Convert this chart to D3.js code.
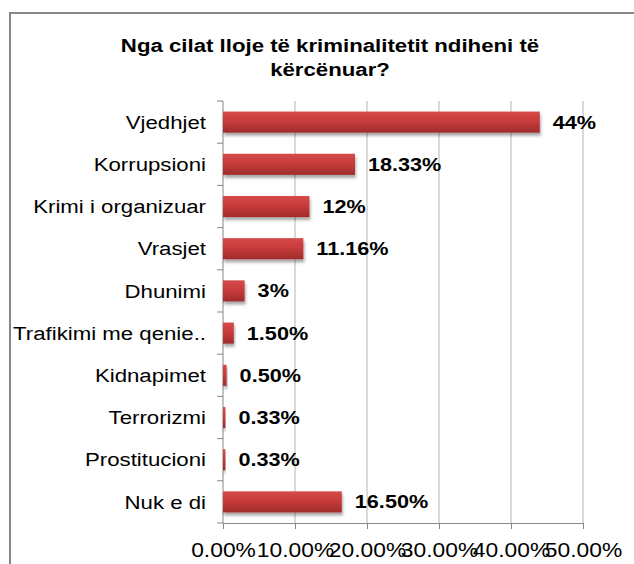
<!DOCTYPE html>
<html>
<head>
<meta charset="utf-8">
<script src="https://cdn.jsdelivr.net/npm/d3@7"></script>
<style>
  body { margin: 0; background: #fff; }
  text { font-family: "Liberation Sans", Arial, sans-serif; fill: #000; }
</style>
</head>
<body>
<script>
// data
var categories = ["Vjedhjet", "Korrupsioni", "Krimi i organizuar", "Vrasjet", "Dhunimi",
  "Trafikimi me qenie..", "Kidnapimet", "Terrorizmi", "Prostitucioni", "Nuk e di"];
var values = [0.44, 0.1833, 0.12, 0.1116, 0.03, 0.015, 0.005, 0.0033, 0.0033, 0.165];
var valueLabels = ["44%", "18.33%", "12%", "11.16%", "3%", "1.50%", "0.50%", "0.33%", "0.33%", "16.50%"];
var tickValues = [0, 0.1, 0.2, 0.3, 0.4, 0.5];
var titleLines = ["Nga cilat lloje të kriminalitetit ndiheni të", "kërcënuar?"];

var width = 634, height = 564;
var sx = 1.17; // picture is a bit stretched sideways
var plotLeft = 223, plotRight = 583, plotTop = 101, plotBottom = 523;

var svg = d3.select("body").append("svg")
  .attr("width", width)
  .attr("height", height);

// gradient + shadow for bars
var defs = svg.append("defs");
var grad = defs.append("linearGradient")
  .attr("id", "barGrad")
  .attr("x1", 0).attr("y1", 0).attr("x2", 0).attr("y2", 1);
grad.append("stop").attr("offset", "0%").attr("stop-color", "#d6494a");
grad.append("stop").attr("offset", "45%").attr("stop-color", "#c83c3c");
grad.append("stop").attr("offset", "100%").attr("stop-color", "#a02b2b");
var shadow = defs.append("filter").attr("id", "shadow")
  .attr("x", "-10%").attr("y", "-30%").attr("width", "130%").attr("height", "180%");
shadow.append("feDropShadow")
  .attr("dx", 1).attr("dy", 3).attr("stdDeviation", 1.4)
  .attr("flood-color", "#000").attr("flood-opacity", 0.35);

// outer border
svg.append("rect")
  .attr("x", 10).attr("y", 13)
  .attr("width", 700).attr("height", 700)
  .attr("fill", "none")
  .attr("stroke", "#878787")
  .attr("stroke-width", 2);

// title
svg.selectAll(".title")
  .data(titleLines)
  .enter()
  .append("text")
    .attr("class", "title")
    .attr("transform", function(d, i){
      return "translate(330," + (52 + i * 24) + ") scale(" + sx + ",1)";
    })
    .attr("text-anchor", "middle")
    .style("font-size", "19px")
    .style("font-weight", "bold")
    .text(function(d){ return d; });

var x = d3.scaleLinear().domain([0, 0.5]).range([plotLeft, plotRight]);
var y = d3.scaleBand().domain(categories).range([plotTop, plotBottom])
  .paddingInner(0.5).paddingOuter(0.25);

// vertical grid lines
svg.selectAll(".grid")
  .data(tickValues.slice(1))
  .enter()
  .append("line")
    .attr("class", "grid")
    .attr("x1", function(d){ return x(d); })
    .attr("x2", function(d){ return x(d); })
    .attr("y1", plotTop)
    .attr("y2", plotBottom)
    .attr("stroke", "#b4b4b4")
    .attr("stroke-width", 1);

// bottom axis
var xAxis = svg.append("g")
  .attr("transform", "translate(0," + plotBottom + ")")
  .call(d3.axisBottom(x).tickValues(tickValues).tickFormat(d3.format(".2%")).tickSize(6).tickPadding(14));
xAxis.attr("font-family", null).attr("font-size", null);
xAxis.select(".domain").attr("stroke", "#878787");
xAxis.selectAll(".tick line").attr("stroke", "#878787");
xAxis.selectAll(".tick text")
  .attr("transform", "scale(" + sx + ",1)")
  .style("font-size", "19.5px");

// left axis: line + ticks on band edges
var step = y.step();
svg.append("line")
  .attr("x1", plotLeft).attr("x2", plotLeft)
  .attr("y1", plotTop).attr("y2", plotBottom)
  .attr("stroke", "#878787");
svg.selectAll(".ytick")
  .data(d3.range(categories.length + 1))
  .enter()
  .append("line")
    .attr("class", "ytick")
    .attr("x1", plotLeft - 6).attr("x2", plotLeft)
    .attr("y1", function(i){ return plotTop + i * step; })
    .attr("y2", function(i){ return plotTop + i * step; })
    .attr("stroke", "#878787");

// category labels
svg.selectAll(".cat")
  .data(categories)
  .enter()
  .append("text")
    .attr("class", "cat")
    .attr("transform", function(d){
      return "translate(206," + (y(d) + y.bandwidth() / 2) + ") scale(" + sx + ",1)";
    })
    .attr("text-anchor", "end")
    .attr("dy", "0.35em")
    .style("font-size", "19px")
    .text(function(d){ return d; });

// bars
svg.selectAll(".bar")
  .data(values)
  .enter()
  .append("rect")
    .attr("class", "bar")
    .attr("x", x(0))
    .attr("y", function(d, i){ return y(categories[i]); })
    .attr("width", function(d){ return x(d) - x(0); })
    .attr("height", y.bandwidth())
    .attr("fill", "url(#barGrad)")
    .attr("filter", "url(#shadow)");

// value labels
svg.selectAll(".val")
  .data(values)
  .enter()
  .append("text")
    .attr("class", "val")
    .attr("transform", function(d, i){
      return "translate(" + (x(d) + 13) + "," + (y(categories[i]) + y.bandwidth() / 2) + ") scale(" + sx + ",1)";
    })
    .attr("dy", "0.35em")
    .style("font-size", "18.5px")
    .style("font-weight", "bold")
    .text(function(d, i){ return valueLabels[i]; });
</script>
</body>
</html>
